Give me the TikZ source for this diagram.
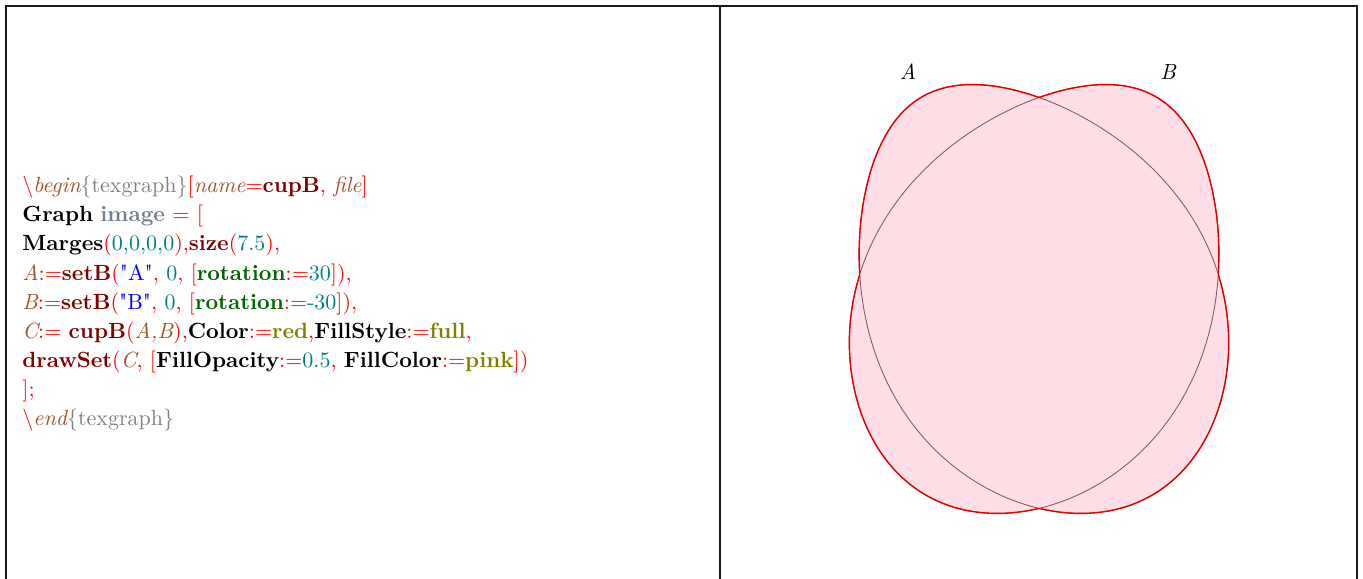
\documentclass[tikz,border=0pt]{standalone}
\usepackage{fontspec}
\setmainfont{Latin Modern Roman}
\newfontfamily\plainq{Latin Modern Roman}[Ligatures=TeXOff]
\definecolor{cxred}{RGB}{255,0,0}
\definecolor{cxbrown}{RGB}{160,82,45}
\definecolor{cxgray}{RGB}{128,128,128}
\definecolor{cxdred}{RGB}{128,0,0}
\definecolor{cxslate}{RGB}{112,128,144}
\definecolor{cxteal}{RGB}{0,128,128}
\definecolor{cxblue}{RGB}{0,0,255}
\definecolor{cxgreen}{RGB}{0,100,0}
\definecolor{cxolive}{RGB}{128,128,0}
\definecolor{frm}{RGB}{25,25,25}
\definecolor{innerln}{RGB}{128,96,104}
\definecolor{fillp}{RGB}{255,222,229}
\definecolor{outln}{RGB}{230,0,0}
\newcommand\cxR[1]{\textcolor{cxred}{#1}}
\newcommand\cxI[1]{\textcolor{cxbrown}{\itshape #1}}
\newcommand\cxG[1]{\textcolor{cxgray}{#1}}
\newcommand\cxD[1]{\textcolor{cxdred}{\bfseries #1}}
\newcommand\cxN[1]{\textcolor{cxteal}{#1}}
\newcommand\cxO[1]{\textcolor{cxolive}{\bfseries #1}}
\newcommand\cxV[1]{\textcolor{cxgreen}{\bfseries #1}}
\newcommand\cxS[1]{\textcolor{cxblue}{#1}}
\newcommand\cxQ{{\plainq "}}
\tikzset{
  codeline/.style={anchor=base west, inner sep=0pt, font=\fontsize{11}{14}\selectfont},
  setlabel/.style={inner sep=0pt, font=\fontsize{11}{14}\selectfont\itshape},
  frameline/.style={draw=frm, line width=1pt},
  setcurve/.style={domain=0:360, samples=241},
  % set A: egg-shaped blob, tilted 30 degrees (top to the left)
  pathA/.style={setcurve, insert path={plot
    ({1037+0.866*ae(sin(\x))*cos(\x)-0.5*230*sin(\x)},
     {296-0.5*ae(sin(\x))*cos(\x)-0.866*230*sin(\x)}) -- cycle}},
  % set B: mirror image of A about x = 1039
  pathB/.style={setcurve, insert path={plot
    ({1041-0.866*ae(sin(\x))*cos(\x)+0.5*230*sin(\x)},
     {296-0.5*ae(sin(\x))*cos(\x)-0.866*230*sin(\x)}) -- cycle}},
  boxcw/.style={insert path={(-10,-10) -- (1400,-10) -- (1400,600) -- (-10,600) -- cycle}},
  boxccw/.style={insert path={(-10,-10) -- (-10,600) -- (1400,600) -- (1400,-10) -- cycle}},
}
\begin{document}
\begin{tikzpicture}[x=0.5pt,y=-0.5pt, declare function={ae(\s)=173-17*\s*(1+\s);}]
\useasboundingbox (0,0) rectangle (1363,578);
% frame
\draw[frameline] (6,579) -- (6,6) -- (1357,6) -- (1357,579);
\draw[frameline] (719.5,6) -- (719.5,579);
% code
\node[codeline] (t1) at (22,192) {\cxR{\textbackslash}\cxI{begin}\cxG{\{texgraph\}}\cxR{[}\cxI{name}\cxR{=}\cxD{cupB}\cxR{, }\cxI{file}\cxR{]}};
\node[codeline] (t2) at (22,221) {\textbf{Graph} \textcolor{cxslate}{\bfseries image} \cxR{= [}};
\node[codeline] (t3) at (22,250.5) {\textbf{Marges}\cxR{(}\cxN{0,0,0,0}\cxR{),}\cxD{size}\cxR{(}\cxN{7.5}\cxR{),}};
\node[codeline] (t4) at (22,280) {\cxI{A}\cxR{:=}\cxD{setB}\cxR{(}\cxS{\cxQ A\cxQ}\cxR{, }\cxN{0}\cxR{, [}\cxV{rotation}\cxR{:=}\cxN{30}\cxR{]),}};
\node[codeline] (t5) at (22,309) {\cxI{B}\cxR{:=}\cxD{setB}\cxR{(}\cxS{\cxQ B\cxQ}\cxR{, }\cxN{0}\cxR{, [}\cxV{rotation}\cxR{:=}\cxN{-30}\cxR{]),}};
\node[codeline] (t6) at (22,338) {\cxI{C}\cxR{:= }\cxD{cupB}\cxR{(}\cxI{A,B}\cxR{),}\textbf{Color}\cxR{:=}\cxO{red}\cxR{,}\textbf{FillStyle}\cxR{:=}\cxO{full}\cxR{,}};
\node[codeline] (t7) at (22,367) {\cxD{drawSet}\cxR{(}\cxI{C}\cxR{, [}\textbf{FillOpacity}\cxR{:=}\cxN{0.5}\cxR{, }\textbf{FillColor}\cxR{:=}\cxO{pink}\cxR{])}};
\node[codeline] (t8) at (22,396) {\cxR{];}};
\node[codeline] (t9) at (22,425) {\cxR{\textbackslash}\cxI{end}\cxG{\{texgraph\}}};
% sets
\fill[fillp, pathA];
\fill[fillp, pathB];
\draw[innerln, line width=0.45pt, pathA];
\draw[innerln, line width=0.45pt, pathB];
\begin{scope}
  \path[clip, boxccw, pathB];
  \draw[outln, line width=0.7pt, pathA];
\end{scope}
\begin{scope}
  \path[clip, boxcw, pathA];
  \draw[outln, line width=0.7pt, pathB];
\end{scope}
\node[setlabel] (la) at (908,72) {A};
\node[setlabel] (lb) at (1168,72) {B};
\end{tikzpicture}
\end{document}
